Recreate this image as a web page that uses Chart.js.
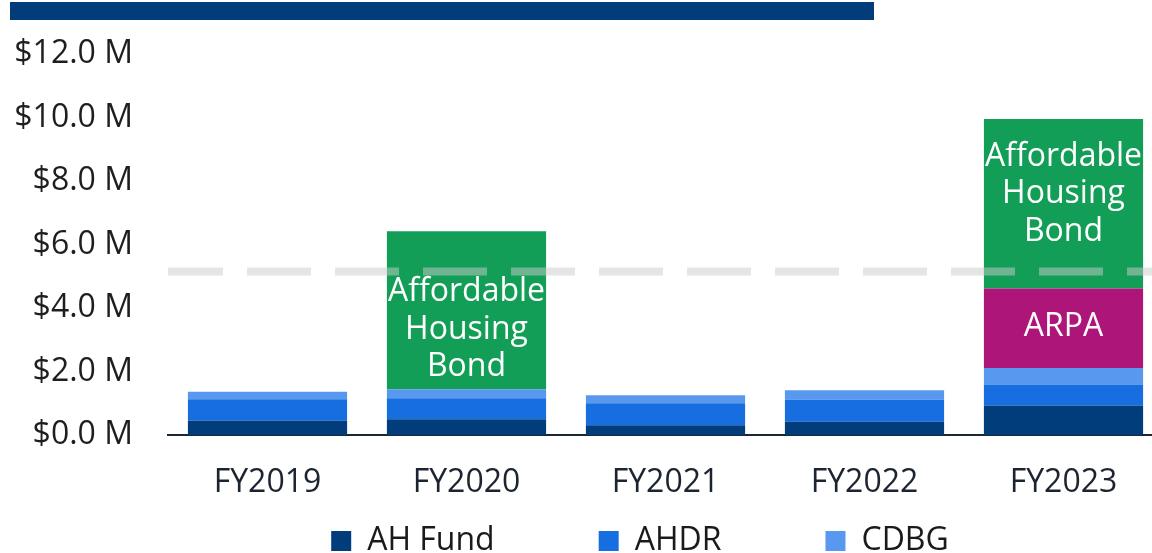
<!DOCTYPE html>
<html>
<head>
<meta charset="utf-8">
<script src="https://cdn.jsdelivr.net/npm/chart.js@4.4.1/dist/chart.umd.min.js"></script>
<style>
  html, body { margin: 0; padding: 0; width: 1152px; height: 553px; overflow: hidden; background: #fff; }
  #wrap { position: absolute; left: 0; top: 0; width: 1280px; height: 641px; }
  #titlebar { position: absolute; left: 10px; top: 2px; width: 864px; height: 18px; background: #003d7a; z-index: 2; }
</style>
</head>
<body>
<div id="titlebar"></div>
<div id="wrap"><canvas id="c" width="1280" height="641"></canvas></div>
<script>
// ---- data ----
const categories = ['FY2019', 'FY2020', 'FY2021', 'FY2022', 'FY2023'];
const ahFund = [0.45, 0.50, 0.31, 0.42, 0.93];
const ahdr   = [0.68, 0.66, 0.69, 0.69, 0.66];
const cdbg   = [0.23, 0.28, 0.25, 0.30, 0.52];
const arpa   = [0, 0, 0, 0, 2.51];
const bond   = [0, 4.98, 0, 0, 5.34];
const referenceLine = 5.15;
const yTickValues = [0, 2, 4, 6, 8, 10, 12];
const seriesNames = ['AH Fund', 'AHDR', 'CDBG', 'ARPA', 'Affordable Housing Bond'];
const segmentLabels = [null, null, null, ['ARPA'], ['Affordable', 'Housing', 'Bond']];
const legendShown = ['AH Fund', 'AHDR', 'CDBG'];

const FONT = "'Open Sans', 'DejaVu Sans', sans-serif";
const FS = 32;
const colors = ['#003d7a', '#176ee0', '#5898ee', '#ad1579', '#129e57'];

const overlayPlugin = {
  id: 'overlay',
  afterLayout(chart) {
    const lg = chart.legend;
    if (lg) {
      const pad = lg.options.labels.padding;
      const h = lg.height;
      lg.top = 541 - pad - FS / 2;
      lg.bottom = lg.top + h;
    }
  },
  afterDatasetsDraw(chart) {
    const ctx = chart.ctx;
    const y = chart.scales.y;
    const area = chart.chartArea;
    // dashed reference line
    const yy = y.getPixelForValue(referenceLine);
    ctx.save();
    ctx.strokeStyle = 'rgba(204,204,204,0.5)';
    ctx.lineWidth = 8;
    ctx.setLineDash([64, 24]);
    ctx.lineDashOffset = 9;
    ctx.beginPath();
    ctx.moveTo(area.left, yy);
    ctx.lineTo(chart.width, yy);
    ctx.stroke();
    ctx.restore();
    // segment labels: centred in the larger part of the segment split by the reference line
    ctx.save();
    ctx.fillStyle = '#ffffff';
    ctx.font = FS + 'px ' + FONT;
    ctx.textAlign = 'center';
    ctx.textBaseline = 'middle';
    chart.data.datasets.forEach((ds, di) => {
      const lines = segmentLabels[di];
      if (!lines) return;
      const meta = chart.getDatasetMeta(di);
      meta.data.forEach((el, i) => {
        if (!ds.data[i]) return;
        let top = Math.min(el.y, el.base), bot = Math.max(el.y, el.base);
        if (yy > top && yy < bot) {
          if (yy - top >= bot - yy) bot = yy; else top = yy;
        }
        const cy = (top + bot) / 2 - 1;
        const lh = 37.5;
        const start = cy - (lines.length - 1) * lh / 2;
        lines.forEach((t, k) => ctx.fillText(t, el.x, start + k * lh));
      });
    });
    ctx.restore();
  }
};

const seriesData = [ahFund, ahdr, cdbg, arpa, bond];
new Chart(document.getElementById('c'), {
  type: 'bar',
  data: {
    labels: categories,
    datasets: seriesNames.map((n, i) => ({
      label: n,
      data: seriesData[i],
      backgroundColor: colors[i],
      borderWidth: 0,
      barPercentage: 1,
      categoryPercentage: 0.8
    }))
  },
  options: {
    responsive: false,
    animation: false,
    devicePixelRatio: 1,
    layout: { padding: { top: 52, left: 0, right: 0, bottom: 0 } },
    plugins: {
      tooltip: { enabled: false },
      legend: {
        position: 'bottom',
        labels: {
          filter: (item) => legendShown.includes(item.text),
          boxWidth: 20,
          boxHeight: 20,
          padding: 104,
          color: '#1a1a1a',
          font: { family: FONT, size: FS }
        }
      }
    },
    scales: {
      x: {
        stacked: true,
        grid: { display: false, drawTicks: false },
        border: { display: true, color: '#1b2733', width: 2 },
        ticks: { color: '#1b2430', font: { family: FONT, size: FS }, padding: 29 },
        afterFit: (s) => { s.height = 60; }
      },
      y: {
        stacked: true,
        min: 0, max: 12,
        afterBuildTicks: (s) => { s.ticks = yTickValues.map(v => ({ value: v })); },
        grid: { display: false, drawTicks: false },
        border: { display: false },
        ticks: {
          color: '#1e1e1e',
          padding: 35,
          font: { family: FONT, size: FS },
          callback: (v) => '$' + Number(v).toFixed(1) + ' M'
        },
        afterFit: (s) => { s.width = 168; }
      },
      y2: {
        position: 'right',
        display: true,
        grid: { display: false, drawTicks: false },
        border: { display: false },
        ticks: { display: false },
        afterFit: (s) => { s.width = 117; }
      }
    }
  },
  plugins: [overlayPlugin]
});
</script>
</body>
</html>
